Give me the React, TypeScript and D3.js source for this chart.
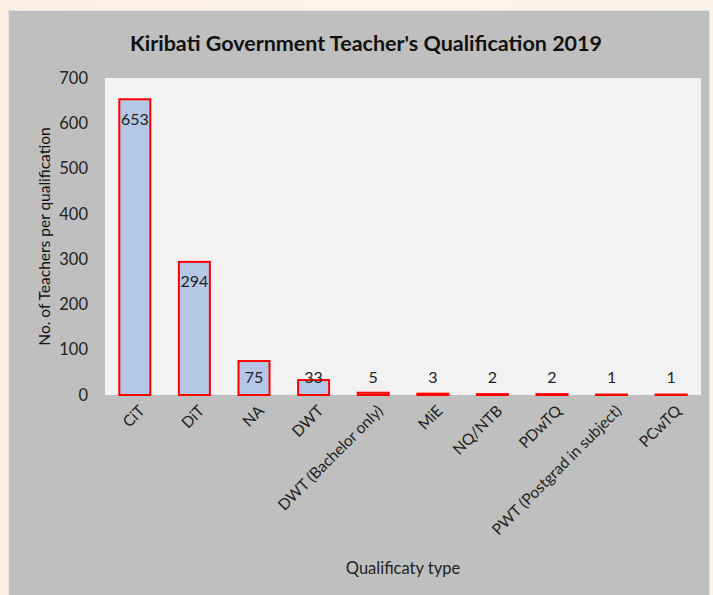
import React from "react";
import * as d3 from "d3";

const categories = [
  "CiT",
  "DiT",
  "NA",
  "DWT",
  "DWT (Bachelor only)",
  "MiE",
  "NQ/NTB",
  "PDwTQ",
  "PWT (Postgrad in subject)",
  "PCwTQ",
];
const values = [653, 294, 75, 33, 5, 3, 2, 2, 1, 1];
const yTicks = [0, 100, 200, 300, 400, 500, 600, 700];

const W = 713;
const H = 595;
const plot = { left: 105, right: 701, top: 78, bottom: 395 };
const FONT = "Lato, 'Open Sans', sans-serif";

export default function App() {
  const x = d3
    .scaleBand<string>()
    .domain(categories)
    .range([plot.left, plot.right])
    .paddingInner(0.48)
    .paddingOuter(0.24);
  const y = d3.scaleLinear().domain([0, 700]).range([plot.bottom, plot.top]);

  return (
    <svg
      width={W}
      height={H}
      style={{ position: "fixed", left: 0, top: 0 }}
      xmlns="http://www.w3.org/2000/svg"
    >
      <defs>
        <linearGradient id="bgGrad" x1="0" y1="0" x2="1" y2="0">
          <stop offset="0" stopColor="#fbeee0" />
          <stop offset="0.5" stopColor="#fdf4e6" />
          <stop offset="1" stopColor="#fbf2e6" />
        </linearGradient>
      </defs>
      <rect x={0} y={0} width={W} height={H} fill="url(#bgGrad)" />
      <rect x={8} y={10} width={702} height={H - 10} fill="#e6e6e6" />
      <rect x={9} y={11} width={700} height={H - 11} fill="#bfbfbf" />
      <rect
        x={plot.left}
        y={plot.top}
        width={plot.right - plot.left}
        height={plot.bottom - plot.top}
        fill="#f2f2f2"
      />
      <text
        x={366}
        y={51}
        textAnchor="middle"
        fontFamily={FONT}
        fontWeight="bold"
        fontSize={21.5}
        fill="#111"
      >
        Kiribati Government Teacher's Qualification 2019
      </text>

      {yTicks.map((t) => (
        <text
          key={t}
          x={88}
          y={y(t)}
          dy="0.35em"
          textAnchor="end"
          fontFamily={FONT}
          fontSize={16.5}
          fill="#222"
        >
          {t}
        </text>
      ))}

      <text
        transform={`translate(50,${(plot.top + plot.bottom) / 2}) rotate(-90)`}
        textAnchor="middle"
        fontFamily={FONT}
        fontSize={15.5}
        fill="#111"
      >
        No. of Teachers per qualification
      </text>

      {categories.map((c, i) => {
        const v = values[i];
        const bx = x(c)!;
        const bw = x.bandwidth();
        const top = y(v);
        const cx = bx + bw / 2;
        const labelY = Math.min(top + 20, y(0) - 18);
        return (
          <g key={c}>
            <rect
              x={bx}
              y={top}
              width={bw}
              height={Math.max(0, y(0) - top)}
              fill="#b4c7e7"
              stroke="#ff0000"
              strokeWidth={2}
            />
            <text
              x={cx}
              y={labelY}
              dy="0.35em"
              textAnchor="middle"
              fontFamily={FONT}
              fontSize={16}
              fill="#222"
            >
              {v}
            </text>
            <text
              transform={`translate(${cx + 7},${plot.bottom + 13}) rotate(-45)`}
              textAnchor="end"
              dy="0.35em"
              fontFamily={FONT}
              fontSize={15.5}
              fill="#222"
            >
              {c}
            </text>
          </g>
        );
      })}

      <text
        x={403}
        y={574}
        textAnchor="middle"
        fontFamily={FONT}
        fontSize={16.5}
        fill="#222"
      >
        Qualificaty type
      </text>
    </svg>
  );
}
